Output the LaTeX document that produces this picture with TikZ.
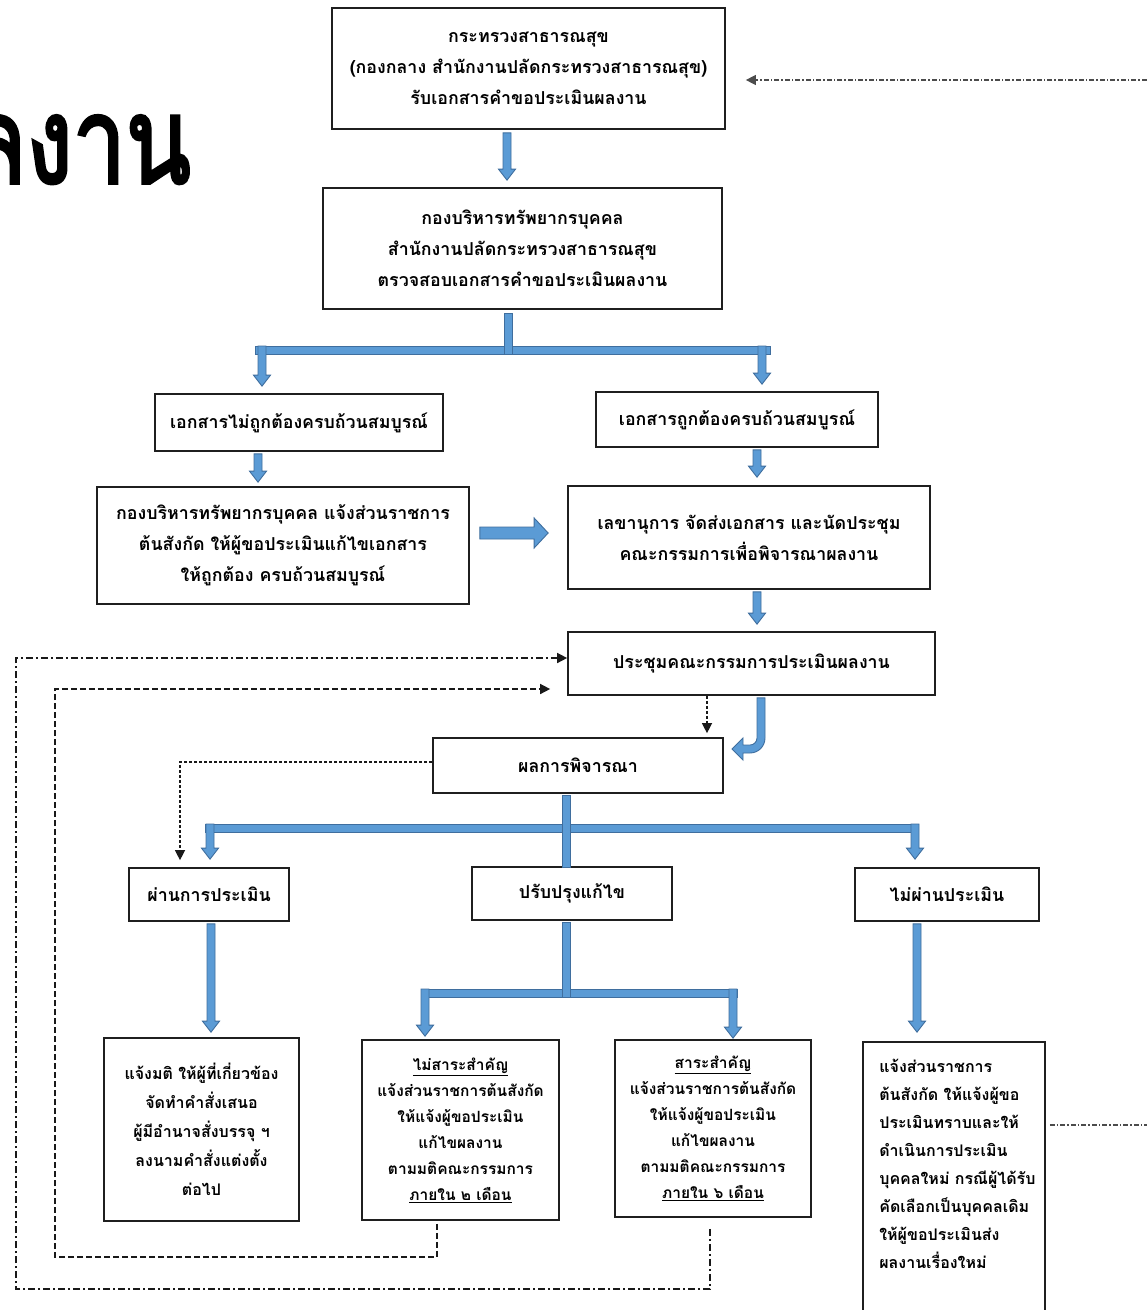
\documentclass[tikz,border=0pt]{standalone}
\usepackage{fontspec}
\setmainfont[Script=Thai]{Loma}
\newfontfamily\titlefont[Script=Thai,FakeBold=3]{Loma}
\usetikzlibrary{arrows.meta,calc}
\definecolor{bfill}{HTML}{5B9BD5}
\definecolor{bline}{HTML}{3F6E9E}
\tikzset{
  box/.style={draw=black!88, line width=1.7pt, inner sep=0pt, align=center},
  fmain/.style={font=\fontsize{17.8}{31}\selectfont\bfseries},
  fsmall/.style={font=\fontsize{16}{29}\selectfont\bfseries},
  fsmaller/.style={font=\fontsize{15.5}{26}\selectfont\bfseries},
  blk/.style={fill=bfill, draw=bline, line width=0.9pt},
  ktip/.style={-{Triangle[length=10pt,width=10pt]}},
  dotl/.style={draw=black!90, line width=1.3pt, dash pattern=on 3pt off 2pt, ktip},
  dashl/.style={draw=black!90, line width=1.5pt, dash pattern=on 6pt off 3pt, ktip},
  dashdotl/.style={draw=black!90, line width=1.5pt, dash pattern=on 7pt off 3pt on 2pt off 3pt, ktip},
  fdashdot/.style={draw=black!70, line width=1.3pt, dash pattern=on 5pt off 2pt on 1.5pt off 2pt, ktip},
}
\newcommand\blkdn[2]{\path[blk] let \p1=(#1), \p2=(#2) in
  (\x1-4pt,\y1) -- (\x1+4pt,\y1) -- (\x1+4pt,\y2+11pt) -- (\x1+8.5pt,\y2+11pt) -- (\x1,\y2) -- (\x1-8.5pt,\y2+11pt) -- (\x1-4pt,\y2+11pt) -- cycle;}
\newcommand\blkrt[2]{\path[blk] let \p1=(#1), \p2=(#2) in
  (\x1,\y1+6pt) -- (\x2-14pt,\y1+6pt) -- (\x2-14pt,\y1+15pt) -- (\x2,\y1) -- (\x2-14pt,\y1-15pt) -- (\x2-14pt,\y1-6pt) -- (\x1,\y1-6pt) -- cycle;}
\newcommand\blkbar[2]{\path[blk] let \p1=(#1), \p2=(#2) in (\x1,\y1+4pt) rectangle (\x2,\y1-4pt);}
\newcommand\blkstem[2]{\path[blk] let \p1=(#1), \p2=(#2) in (\x1-4pt,\y1) rectangle (\x1+4pt,\y2);}
\begin{document}
\begin{tikzpicture}[x=1pt,y=1pt]
\useasboundingbox (0,0) rectangle (1147,-1310);
\fill[white] (0,0) rectangle (1147,-1310);

% title (partly cut at the left edge)
\node[anchor=base east, inner sep=0pt, font=\fontsize{120}{120}\titlefont] (title) at (191,-183) {\scalebox{0.79}[1]{ลงาน}};

% boxes
\node[box, fmain, minimum width=393pt, minimum height=121pt] (b1) at (528.5,-68.5)
  {กระทรวงสาธารณสุข\\(กองกลาง สำนักงานปลัดกระทรวงสาธารณสุข)\\รับเอกสารคำขอประเมินผลงาน};
\node[box, fmain, minimum width=399pt, minimum height=121pt] (b2) at (522.5,-248.5)
  {กองบริหารทรัพยากรบุคคล\\สำนักงานปลัดกระทรวงสาธารณสุข\\ตรวจสอบเอกสารคำขอประเมินผลงาน};
\node[box, fmain, minimum width=288pt, minimum height=57pt] (b3) at (299,-422.5) {เอกสารไม่ถูกต้องครบถ้วนสมบูรณ์};
\node[box, fmain, minimum width=282pt, minimum height=55pt] (b4) at (737,-419.5) {เอกสารถูกต้องครบถ้วนสมบูรณ์};
\node[box, fmain, minimum width=372pt, minimum height=117pt] (b5) at (283,-545.5)
  {กองบริหารทรัพยากรบุคคล แจ้งส่วนราชการ\\ต้นสังกัด ให้ผู้ขอประเมินแก้ไขเอกสาร\\ให้ถูกต้อง ครบถ้วนสมบูรณ์};
\node[box, fmain, minimum width=362pt, minimum height=103pt] (b6) at (749,-537.5)
  {เลขานุการ จัดส่งเอกสาร และนัดประชุม\\คณะกรรมการเพื่อพิจารณาผลงาน};
\node[box, fmain, minimum width=367pt, minimum height=63pt] (b7) at (751.5,-663.5) {ประชุมคณะกรรมการประเมินผลงาน};
\node[box, fmain, minimum width=290pt, minimum height=55pt] (b8) at (578,-765.5) {ผลการพิจารณา};
\node[box, fmain, minimum width=160pt, minimum height=53pt] (b9) at (209,-894.5) {ผ่านการประเมิน};
\node[box, fmain, minimum width=200pt, minimum height=53pt] (b10) at (572,-893.5) {ปรับปรุงแก้ไข};
\node[box, fmain, minimum width=184pt, minimum height=53pt] (b11) at (947,-894.5) {ไม่ผ่านประเมิน};
\node[box, fsmall, minimum width=195pt, minimum height=183pt] (b12) at (201.5,-1129.5)
  {แจ้งมติ ให้ผู้ที่เกี่ยวข้อง\\จัดทำคำสั่งเสนอ\\ผู้มีอำนาจสั่งบรรจุ ฯ\\ลงนามคำสั่งแต่งตั้ง\\ต่อไป};
\node[box, fsmaller, minimum width=197pt, minimum height=180pt] (b13) at (460.5,-1130)
  {\underline{ไม่สาระสำคัญ}\\แจ้งส่วนราชการต้นสังกัด\\ให้แจ้งผู้ขอประเมิน\\แก้ไขผลงาน\\ตามมติคณะกรรมการ\\\underline{ภายใน ๒ เดือน}};
\node[box, fsmaller, minimum width=196pt, minimum height=177pt] (b14) at (713,-1128.5)
  {\underline{สาระสำคัญ}\\แจ้งส่วนราชการต้นสังกัด\\ให้แจ้งผู้ขอประเมิน\\แก้ไขผลงาน\\ตามมติคณะกรรมการ\\\underline{ภายใน ๖ เดือน}};
\node[box, minimum width=182pt, minimum height=300pt] (b15) at (954,-1192) {};
\node[inner sep=0pt, anchor=north west, align=left, font=\fontsize{16}{28}\selectfont\bfseries] (b15t) at ($(b15.north west)+(17,-18)$)
  {แจ้งส่วนราชการ\\ต้นสังกัด ให้แจ้งผู้ขอ\\ประเมินทราบและให้\\ดำเนินการประเมิน\\บุคคลใหม่ กรณีผู้ได้รับ\\คัดเลือกเป็นบุคคลเดิม\\ให้ผู้ขอประเมินส่ง\\ผลงานเรื่องใหม่};

% blue block arrows
\coordinate (a1s) at ($(b1.south -| 507,0)+(0,-3)$);
\coordinate (a1e) at ($(b2.north -| 507,0)+(0,7)$);
\blkdn{a1s}{a1e}

\coordinate (br1s) at ($(b2.south -| 508,0)+(0,-4)$);
\coordinate (br1l) at (255,-350);
\coordinate (br1r) at (770,-350);
\coordinate (br1b) at (508,-354);
\blkbar{br1l}{br1r}
\blkstem{br1s}{br1b}
\coordinate (a2s) at (262,-346);
\coordinate (a2e) at ($(b3.north -| 262,0)+(0,7)$);
\blkdn{a2s}{a2e}
\coordinate (a3s) at (762,-346);
\coordinate (a3e) at ($(b4.north -| 762,0)+(0,7)$);
\blkdn{a3s}{a3e}

\coordinate (a4s) at ($(b3.south -| 258,0)+(0,-2)$);
\coordinate (a4e) at ($(b5.north -| 258,0)+(0,4)$);
\blkdn{a4s}{a4e}
\coordinate (a5s) at ($(b4.south -| 757,0)+(0,-2)$);
\coordinate (a5e) at ($(b6.north -| 757,0)+(0,8)$);
\blkdn{a5s}{a5e}

\coordinate (a6s) at ($(b5.east |- 0,-533)+(10,0)$);
\coordinate (a6e) at ($(b6.west |- 0,-533)+(-19,0)$);
\blkrt{a6s}{a6e}

\coordinate (a7s) at ($(b6.south -| 757,0)+(0,-2)$);
\coordinate (a7e) at ($(b7.north -| 757,0)+(0,7)$);
\blkdn{a7s}{a7e}

% curved arrow from b7 to b8
\coordinate (c1) at ($(b7.south -| 761,0)+(0,-2)$);
\path[blk] let \p1=(c1) in
  (\x1+4pt,\y1) -- (\x1+4pt,-738) arc[start angle=0,end angle=-90,radius=15pt]
  -- (743,-753) -- (743,-760) -- (732,-749) -- (743,-738) -- (743,-745) -- (750,-745)
  arc[start angle=-90,end angle=0,radius=7pt] -- (\x1-4pt,\y1) -- cycle;

% branch under b8
\coordinate (br2s) at ($(b8.south -| 566,0)+(0,-2)$);
\coordinate (br2e) at ($(b10.north -| 566,0)+(0,-1)$);
\coordinate (br2l) at (205,-828);
\coordinate (br2r) at (918,-828);
\blkbar{br2l}{br2r}
\blkstem{br2s}{br2e}
\coordinate (a8s) at (210,-824);
\coordinate (a8e) at ($(b9.north -| 210,0)+(0,8)$);
\blkdn{a8s}{a8e}
\coordinate (a9s) at (915,-824);
\coordinate (a9e) at ($(b11.north -| 915,0)+(0,8)$);
\blkdn{a9s}{a9e}

\coordinate (a10s) at ($(b9.south -| 211,0)+(0,-2)$);
\coordinate (a10e) at ($(b12.north -| 211,0)+(0,5)$);
\blkdn{a10s}{a10e}
\coordinate (a11s) at ($(b11.south -| 917,0)+(0,-2)$);
\coordinate (a11e) at ($(b15.north -| 917,0)+(0,9)$);
\blkdn{a11s}{a11e}

% branch under b10
\coordinate (br3s) at ($(b10.south -| 566,0)+(0,-2)$);
\coordinate (br3b) at (566,-997);
\coordinate (br3l) at (421,-993);
\coordinate (br3r) at (737,-993);
\blkbar{br3l}{br3r}
\blkstem{br3s}{br3b}
\coordinate (a12s) at (425,-989);
\coordinate (a12e) at ($(b13.north -| 425,0)+(0,3)$);
\blkdn{a12s}{a12e}
\coordinate (a13s) at (733,-989);
\coordinate (a13e) at ($(b14.north -| 733,0)+(0,1)$);
\blkdn{a13s}{a13e}

% dashed feedback connectors
\draw[dotl] (b7.south -| 707,0) -- ($(b8.north -| 707,0)+(0,4)$);
\draw[dotl] (b8.west |- 0,-762) -- (180,-762) -- ($(b9.north -| 180,0)+(0,7)$);
\draw[dashl] ($(b13.south -| 437,0)+(0,-3)$) -- (437,-1257) -- (55,-1257) -- (55,-689) -- ($(b7.west |- 0,-689)+(-17,0)$);
\draw[dashdotl] ($(b14.south -| 710,0)+(0,-11)$) -- (710,-1289) -- (16,-1289) -- (16,-658) -- (b7.west |- 0,-658);
\draw[fdashdot] ($(b15.east |- 0,-1125)+(4,0)$) -- (1190,-1125) -- (1190,-80) -- ($(b1.east |- 0,-80)+(20,0)$);
\end{tikzpicture}
\end{document}
